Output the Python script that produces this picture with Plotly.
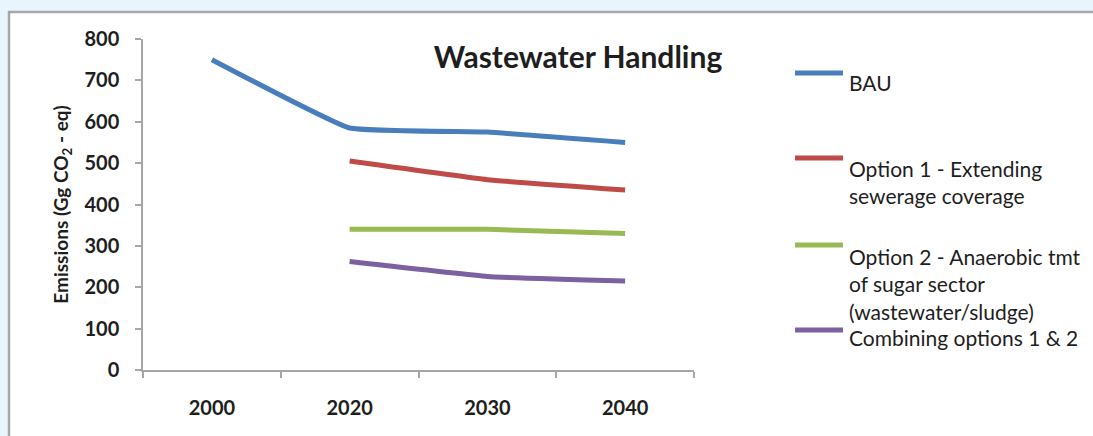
import plotly.graph_objects as go

# Emission scenarios for wastewater handling (Gg CO2-eq)
years = ["2000", "2020", "2030", "2040"]
bau = [750, 585, 575, 550]
option1 = [None, 505, 460, 435]
option2 = [None, 340, 340, 330]
combined = [None, 262, 226, 215]

series_names = ["BAU",
                "Option 1 - Extending sewerage coverage",
                "Option 2 - Anaerobic tmt of sugar sector (wastewater/sludge)",
                "Combining options 1 & 2"]
legend_lines = [["BAU"],
                ["Option 1 - Extending", "sewerage coverage"],
                ["Option 2 - Anaerobic tmt", "of sugar sector", "(wastewater/sludge)"],
                ["Combining options 1 & 2"]]
colors = ["#4a7ebb", "#be4b48", "#98b954", "#7d60a0"]
values = [bau, option1, option2, combined]

W, H = 1093, 436
L, R, T, B = 143, 694, 39, 370          # plot area in pixels
FONT = "Lato, 'Open Sans', sans-serif"
TXT = "#1e1e1e"
PAGE = "#e8f5fc"
EDGE = "#a8a8a8"


def px_x(p):
    return (p - L) / (R - L)


def px_y(p):
    return (B - p) / (B - T)


fig = go.Figure()
for name, vals, col in zip(series_names, values, colors):
    fig.add_trace(go.Scatter(
        x=years, y=vals, name=name, mode="lines",
        line=dict(color=col, width=5, shape="spline", smoothing=0.3),
        showlegend=False,
    ))

# light blue page margin above and left of the white chart panel
shapes = [
    dict(type="rect", xref="paper", yref="paper", layer="below",
         x0=px_x(0), x1=px_x(W), y0=px_y(11), y1=px_y(0),
         fillcolor=PAGE, line=dict(width=0)),
    dict(type="rect", xref="paper", yref="paper", layer="below",
         x0=px_x(0), x1=px_x(8), y0=px_y(H), y1=px_y(0),
         fillcolor=PAGE, line=dict(width=0)),
    dict(type="line", xref="paper", yref="paper", layer="below",
         x0=px_x(8), x1=px_x(W + 30), y0=px_y(12), y1=px_y(12),
         line=dict(color=EDGE, width=2.5)),
    dict(type="line", xref="paper", yref="paper", layer="below",
         x0=px_x(9), x1=px_x(9), y0=px_y(H + 30), y1=px_y(11),
         line=dict(color=EDGE, width=2.5)),
]

# legend drawn beside the plot
annotations = []
sample_y = [73, 158, 245, 330]
text_y = [82, 168, 256, 337]
line_gap = 27.5
for lines, col, sy, ty in zip(legend_lines, colors, sample_y, text_y):
    shapes.append(dict(type="line", xref="paper", yref="paper",
                       x0=px_x(795), x1=px_x(843), y0=px_y(sy), y1=px_y(sy),
                       line=dict(color=col, width=5)))
    for i, txt in enumerate(lines):
        annotations.append(dict(
            text=txt, xref="paper", yref="paper",
            x=px_x(847), y=px_y(ty + i * line_gap),
            xanchor="left", yanchor="middle", showarrow=False,
            font=dict(family=FONT, size=21, color=TXT)))

fig.update_layout(
    width=W, height=H,
    margin=dict(l=L, r=W - R, t=T, b=H - B, pad=0),
    paper_bgcolor="white",
    plot_bgcolor="rgba(0,0,0,0)",
    title=dict(text="<b>Wastewater Handling</b>", x=578 / W, y=1 - 57 / H,
               xanchor="center", yanchor="middle",
               font=dict(family=FONT, size=30, color=TXT)),
    shapes=shapes,
    annotations=annotations,
    showlegend=False,
)

fig.update_xaxes(
    type="category", range=[-0.5, 3.5],
    showline=True, linecolor="#a6a6a6", linewidth=1.5,
    ticks="outside", tickson="boundaries", ticklen=6, tickcolor="#a6a6a6",
    tickwidth=1.5, showgrid=False, zeroline=False,
    ticklabelstandoff=19,
    tickfont=dict(family=FONT, size=20, color=TXT, weight="bold"),
)
fig.update_yaxes(
    range=[0, 800], dtick=100,
    showline=True, linecolor="#a6a6a6", linewidth=1.5,
    ticks="outside", ticklen=6, tickcolor="#a6a6a6", tickwidth=1.5,
    showgrid=False, zeroline=False, ticklabelstandoff=12,
    tickfont=dict(family=FONT, size=20, color=TXT, weight="bold"),
    title=dict(text="<b>Emissions (Gg CO<sub>2</sub> - eq)</b>", standoff=11,
               font=dict(family=FONT, size=19, color=TXT)),
)

fig.write_html("out.html", config={"displayModeBar": False})
